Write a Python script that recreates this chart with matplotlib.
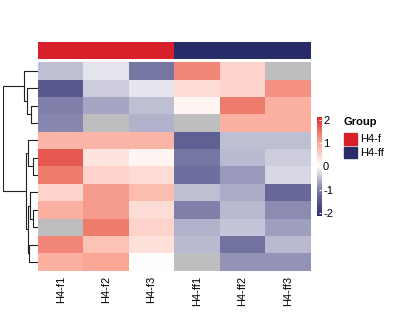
import numpy as np
import matplotlib
matplotlib.use("Agg")
import matplotlib.pyplot as plt
from matplotlib.colors import LinearSegmentedColormap, ListedColormap
from matplotlib.patches import Rectangle

plt.rcParams['font.family'] = ['Liberation Sans', 'DejaVu Sans']

# column names and group annotation
samples = ["H4-f1", "H4-f2", "H4-f3", "H4-ff1", "H4-ff2", "H4-ff3"]
groups = ["H4-f", "H4-f", "H4-f", "H4-ff", "H4-ff", "H4-ff"]
group_names = ["H4-f", "H4-ff"]
group_colors = ["#D7202A", "#282D6A"]

# z-scores (rows in clustered order), nan = missing
z = np.array([
    [-0.5, -0.2, -1.1, 1.3, 0.5, np.nan],
    [-1.5, -0.4, -0.2, 0.4, 0.5, 1.2],
    [-1.0, -0.7, -0.5, 0.1, 1.4, 0.9],
    [-0.95, np.nan, -0.6, np.nan, 0.9, 0.9],
    [0.85, 0.85, 0.85, -1.4, -0.5, -0.5],
    [1.7, 0.3, 0.1, -1.1, -0.55, -0.4],
    [1.4, 0.5, 0.4, -1.2, -0.8, -0.3],
    [0.5, 1.1, 0.75, -0.5, -0.65, -1.3],
    [0.9, 1.1, 0.4, -1.0, -0.55, -0.9],
    [np.nan, 1.4, 0.5, -0.6, -0.45, -0.75],
    [1.3, 0.7, 0.35, -0.55, -1.15, -0.55],
    [0.9, 1.0, 0.0, np.nan, -0.85, -0.85],
])

# row dendrogram merges: (left node, right node, height); new nodes numbered from 12
merges = [
    (2, 3, 6.3),
    (1, 12, 10.3),
    (0, 13, 13.7),
    (5, 6, 4.5),
    (4, 15, 9.5),
    (8, 9, 4.5),
    (7, 17, 7.0),
    (10, 11, 8.0),
    (18, 19, 9.8),
    (16, 20, 11.0),
    (14, 21, 34.0),
]

W, H = 395, 329
fig = plt.figure(figsize=(W / 100, H / 100), dpi=100)

def px_axes(x0, y0, x1, y1):
    return fig.add_axes([x0 / W, 1 - y1 / H, (x1 - x0) / W, (y1 - y0) / H])

lim = 2.13
cmap = LinearSegmentedColormap.from_list(
    "navy_white_red",
    [(0.0, "#2A2E6C"), (0.25, "#7979A6"), (0.5, "#FFFFFF"),
     (0.72, "#FBAE9F"), (0.87, "#EA6A5C"), (1.0, "#D7262A")])
cmap.set_bad("#BEBEBE")

# heatmap
ax = px_axes(38, 62.3, 310.5, 270.6)
ax.pcolormesh(np.ma.masked_invalid(z), cmap=cmap, vmin=-lim, vmax=lim,
              edgecolors="face", linewidth=0)
ax.set_xlim(0, len(samples))
ax.set_ylim(len(z), 0)
ax.set_xticks(np.arange(len(samples)) + 0.5)
ax.set_xticklabels(samples, rotation=90, fontsize=8)
ax.set_yticks([])
ax.tick_params(axis="x", length=0, pad=4)
for sp in ax.spines.values():
    sp.set_visible(False)

# annotation bar
ax_a = px_axes(38, 42.3, 310.5, 59)
gidx = np.array([[group_names.index(g) for g in groups]])
ax_a.pcolormesh(gidx, cmap=ListedColormap(group_colors), vmin=0, vmax=1,
                edgecolors="face", linewidth=0)
ax_a.set_xlim(0, len(samples))
ax_a.axis("off")

# dendrogram
ax_d = px_axes(3, 62.3, 37.5, 270.6)
pos = {i: i + 0.5 for i in range(len(z))}
hts = {i: 0.0 for i in range(len(z))}
for k, (a, b, h) in enumerate(merges):
    n = len(z) + k
    ya, yb = pos[a], pos[b]
    ax_d.plot([hts[a], h, h, hts[b]], [ya, ya, yb, yb], color="#222222", lw=0.8)
    pos[n] = (ya + yb) / 2
    hts[n] = h
ax_d.set_xlim(34, 0)
ax_d.set_ylim(len(z), 0)
ax_d.axis("off")

# colour key
ax_c = px_axes(316.7, 116.7, 321, 216)
grad = np.linspace(-lim, lim, 256).reshape(-1, 1)
ax_c.imshow(grad, cmap=cmap, vmin=-lim, vmax=lim, aspect="auto", origin="lower",
            extent=[0, 1, -lim, lim])
ax_c.set_xticks([])
ax_c.yaxis.tick_right()
ax_c.set_yticks([-2, -1, 0, 1, 2])
ax_c.set_yticklabels(["-2", "-1", "0", "1", "2"], fontsize=8)
ax_c.tick_params(axis="y", direction="in", length=1.5, color="white", pad=1.5)
for sp in ax_c.spines.values():
    sp.set_visible(False)

# group legend
fig.text(343 / W, 1 - 122 / H, "Group", fontsize=8, fontweight="bold", va="center")
for i, (g, c) in enumerate(zip(group_names, group_colors)):
    y0 = 133 + i * 13.5
    fig.patches.append(Rectangle((343.5 / W, 1 - (y0 + 11.5) / H), 13.5 / W, 11.5 / H,
                                 transform=fig.transFigure, color=c))
    fig.text(360 / W, 1 - (y0 + 6) / H, g, fontsize=8, va="center")

fig.savefig("out.png", dpi=100)
